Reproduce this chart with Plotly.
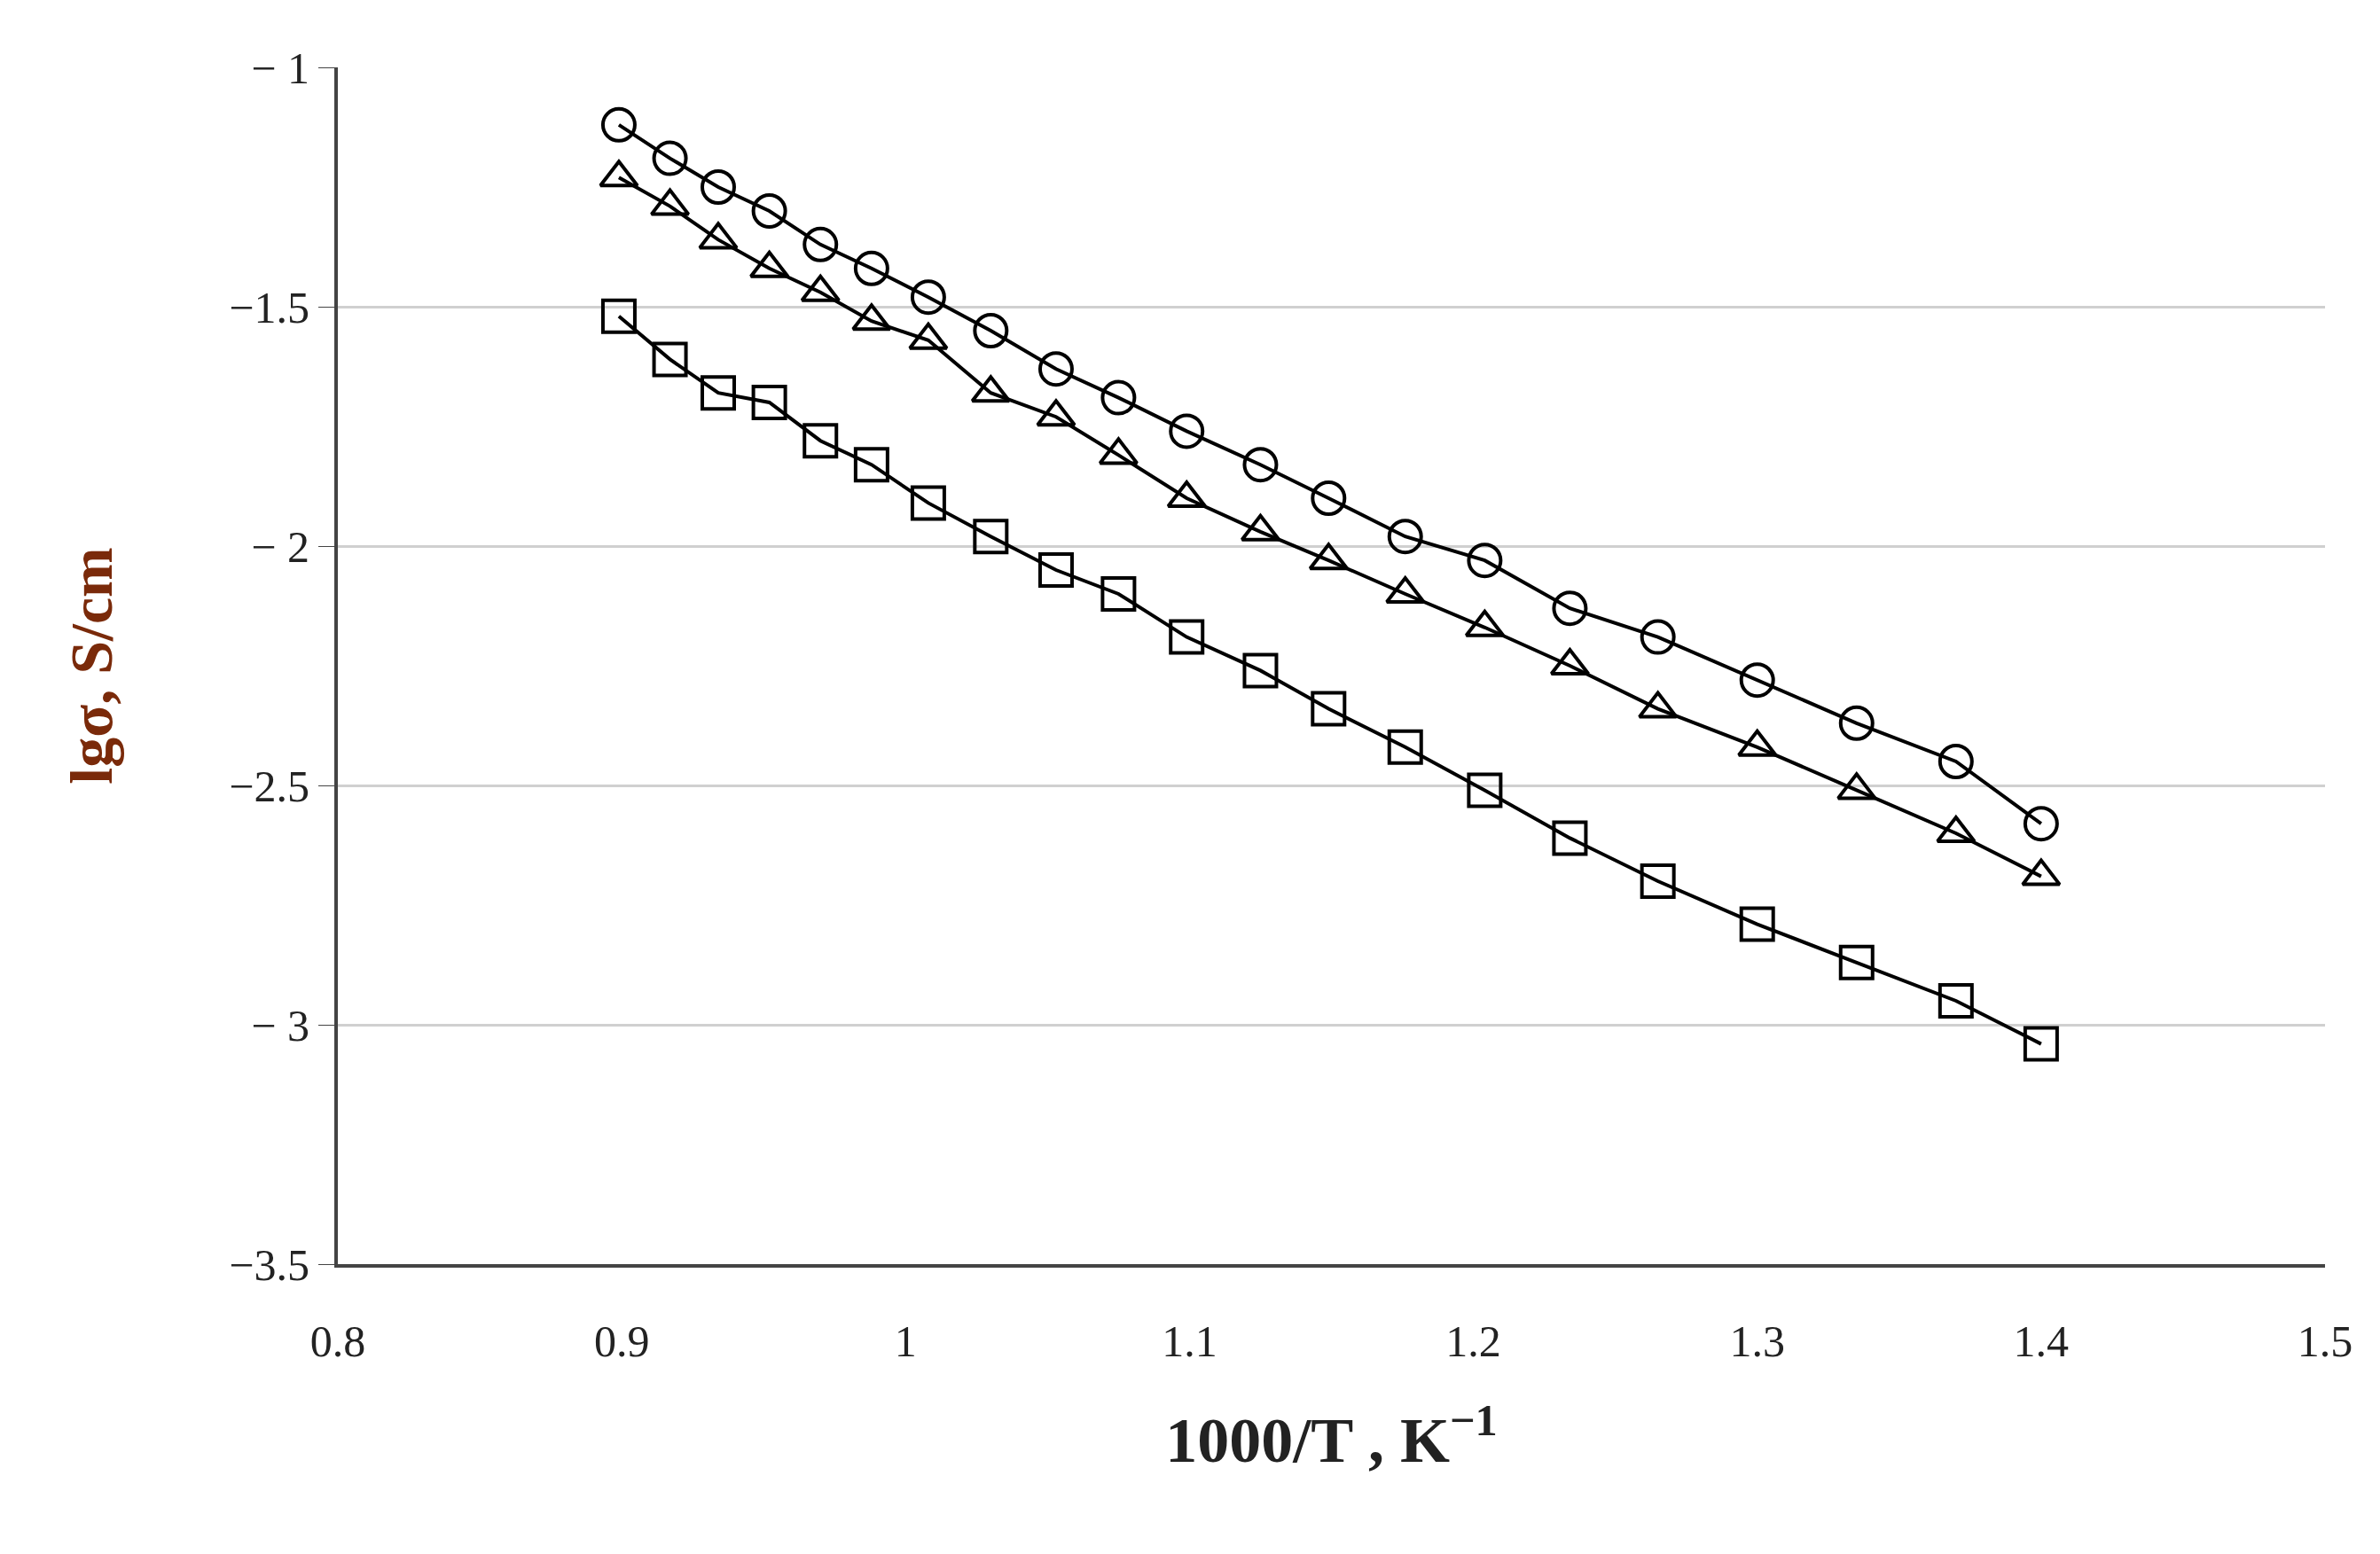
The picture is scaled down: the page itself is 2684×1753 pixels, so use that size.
import plotly.graph_objects as go

x_vals = [0.899, 0.917, 0.934, 0.952, 0.970, 0.988, 1.008, 1.030, 1.053, 1.075, 1.099,
          1.125, 1.149, 1.176, 1.204, 1.234, 1.265, 1.300, 1.335, 1.370, 1.400]

circles = [-1.12, -1.19, -1.25, -1.30, -1.37, -1.42, -1.48, -1.55, -1.63, -1.69, -1.76,
           -1.83, -1.90, -1.98, -2.03, -2.13, -2.19, -2.28, -2.37, -2.45, -2.58]
triangles = [-1.23, -1.29, -1.36, -1.42, -1.47, -1.53, -1.57, -1.68, -1.73, -1.81, -1.90,
             -1.97, -2.03, -2.10, -2.17, -2.25, -2.34, -2.42, -2.51, -2.60, -2.69]
squares = [-1.52, -1.61, -1.68, -1.70, -1.78, -1.83, -1.91, -1.98, -2.05, -2.10, -2.19,
           -2.26, -2.34, -2.42, -2.51, -2.61, -2.70, -2.79, -2.87, -2.95, -3.04]

x_ticks = [0.8, 0.9, 1.0, 1.1, 1.2, 1.3, 1.4, 1.5]
x_labels = ["0.8", "0.9", "1", "1.1", "1.2", "1.3", "1.4", "1.5"]
y_ticks = [-1, -1.5, -2, -2.5, -3, -3.5]
y_labels = ["\u2212 1", "\u22121.5", "\u2212 2", "\u22122.5", "\u2212 3", "\u22123.5"]

fig = go.Figure()
for ys, sym in [(squares, "square-open"), (triangles, "triangle-up-open"), (circles, "circle-open")]:
    fig.add_trace(go.Scatter(
        x=x_vals, y=ys, mode="lines+markers",
        line=dict(color="black", width=4),
        marker=dict(symbol=sym, size=36, color="black", line=dict(width=4)),
        showlegend=False))

font = "Liberation Serif, Times New Roman, serif"
fig.update_layout(
    width=2684, height=1753,
    paper_bgcolor="white", plot_bgcolor="white",
    margin=dict(l=373, r=70, t=68, b=335),
    font=dict(family=font, size=50, color="#222"),
)
fig.update_xaxes(
    range=[0.8, 1.5], tickvals=x_ticks, ticktext=x_labels,
    showline=True, linecolor="#444", linewidth=4,
    showgrid=False, zeroline=False, ticks="outside", ticklen=40, tickcolor="rgba(0,0,0,0)",
    title=dict(text="<b>1000/T , K<sup>\u22121</sup></b>", font=dict(size=72, color="#222"), standoff=60),
)
fig.update_yaxes(
    range=[-3.5, -1], tickvals=y_ticks, ticktext=y_labels,
    showline=True, linecolor="#444", linewidth=4,
    showgrid=True, gridcolor="#d0d0d0", gridwidth=3, zeroline=False,
    ticks="outside", ticklen=18, tickcolor="#444",
    title=dict(text="<b>lg\u03c3, S/cm</b>", font=dict(size=68, color="#7a2a0a"), standoff=110),
)
fig.write_html("out.html")
